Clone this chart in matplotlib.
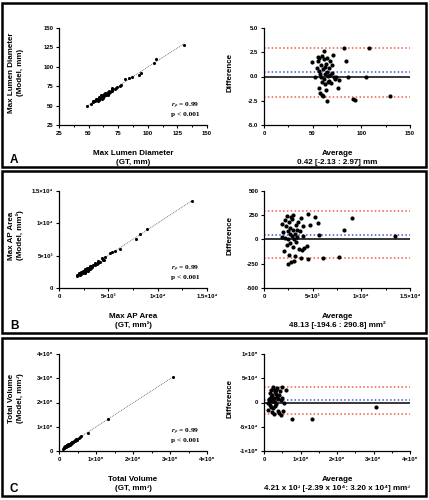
import matplotlib
matplotlib.use("Agg")
import matplotlib.pyplot as plt
import numpy as np
from matplotlib.patches import Rectangle

plt.rcParams['font.family'] = ['Liberation Sans', 'DejaVu Sans']
plt.rcParams['font.weight'] = 'bold'
plt.rcParams['mathtext.fontset'] = 'stix'

# --- data (Bland-Altman average / difference) ---
avg_a = [49, 52, 54, 55, 55, 56, 57, 57, 58, 58, 59, 59, 60, 60, 60, 61, 61, 62, 62, 62,
         63, 63, 63, 64, 64, 65, 65, 65, 66, 66, 67, 67, 68, 68, 69, 70, 70, 71, 72, 73,
         74, 76, 77, 82.5, 84.5, 86.5, 91, 93, 105, 108, 129.5]
diff_a = [1.5, 0.0, 0.9, 2.0, 1.6, 0.6, -1.2, 1.9, 0.3, -1.7, 1.2, 0.0, 2.1, -0.6, -1.9, 0.8,
          -2.0, 1.8, 2.6, -0.3, 1.0, -0.8, 0.3, 1.3, -1.4, -2.5, 0.5, 1.9, -0.6, 0.1, 0.9,
          -0.5, 1.6, 0.2, -0.7, 0.4, 1.2, 2.2, 0.0, -0.3, -0.1, -1.2, -0.4, 2.9, 1.6, -0.1,
          -2.3, -2.4, 0.0, 2.9, -2.0]

avg_b = [1800, 1900, 2000, 2100, 2150, 2200, 2300, 2350, 2400, 2450, 2500, 2500, 2550, 2600,
         2650, 2700, 2700, 2750, 2800, 2850, 2900, 2950, 3000, 3000, 3050, 3100, 3150, 3200,
         3250, 3300, 3350, 3400, 3500, 3600, 3700, 3800, 3800, 3870, 3970, 4040, 4140, 4380,
         4490, 4490, 4730, 5240, 5500, 5650, 6100, 7700, 8250, 9000, 13460]
diff_b = [30, 160, 80, -120, 200, 20, 140, 240, -60, 90, -250, 10, 180, -160, 60, 120, -40,
          230, -232, 40, 210, -80, 250, 100, -220, 0, 60, -171, 150, -30, 100, 30, 180, -100,
          90, 225, -189, -107, 36, 143, -89, -71, 268, -204, 150, 232, 168, 46, -189, -179,
          100, 221, 36]

avg_c = [100e3, 120e3, 140e3, 150e3, 160e3, 170e3, 180e3, 190e3, 200e3, 210e3, 220e3, 230e3,
         240e3, 250e3, 260e3, 260e3, 270e3, 280e3, 290e3, 300e3, 310e3, 320e3, 330e3, 340e3,
         350e3, 360e3, 370e3, 380e3, 400e3, 420e3, 440e3, 460e3, 470e3, 480e3, 500e3, 530e3,
         560e3, 600e3, 760e3, 1320e3, 3070e3]
diff_c = [0, -15000, 8000, 5000, -5000, 20000, 12000, -10000, 25000, 3000, -20000, 15000,
          28000, 6000, 31500, -12000, 10000, -24500, 22000, 2000, -8000, 18000, 26000, -3000,
          12000, 30000, -18000, 7000, 16000, -22000, 24000, 5000, -26000, 31500, 10000,
          -17500, 0, 25000, -33000, -35000, -9000]

# mean bias and limits of agreement
bias = [0.42, 48.13, 4.21e3]
lower = [-2.13, -194.6, -2.39e4]
upper = [2.97, 290.8, 3.20e4]

# axes ticks
sc_ticks = [[25, 50, 75, 100, 125, 150],
            [0, 5000, 10000, 15000],
            [0, 1e6, 2e6, 3e6, 4e6]]
sc_labels = [['25', '50', '75', '100', '125', '150'],
             ['0', '5×10³', '1×10⁴', '1.5×10⁴'],
             ['0', '1×10⁶', '2×10⁶', '3×10⁶', '4×10⁶']]
ba_xticks = [[0, 50, 100, 150],
             [0, 5000, 10000, 15000],
             [0, 1e6, 2e6, 3e6, 4e6]]
ba_xlabels = [['0', '50', '100', '150'],
              ['0', '5×10³', '1×10⁴', '1.5×10⁴'],
              ['0', '1×10⁶', '2×10⁶', '3×10⁶', '4×10⁶']]
ba_yticks = [[-5, -2.5, 0, 2.5, 5],
             [-500, -250, 0, 250, 500],
             [-1e5, -5e4, 0, 5e4, 1e5]]
ba_ylabels = [['-5.0', '-2.5', '0.0', '2.5', '5.0'],
              ['-500', '-250', '0', '250', '500'],
              ['-1×10⁵', '-5×10⁴', '0', '5×10⁴', '1×10⁵']]

sc_xlab = ['Max Lumen Diameter\n(GT, mm)', 'Max AP Area\n(GT, mm²)', 'Total Volume\n(GT, mm³)']
sc_ylab = ['Max Lumen Diameter\n(Model, mm)', 'Max AP Area\n(Model, mm²)',
           'Total Volume\n(Model, mm³)']
ba_xlab = ['Average\n0.42 [-2.13 : 2.97] mm', 'Average\n48.13 [-194.6 : 290.8] mm²',
           'Average\n4.21 x 10³ [-2.39 x 10⁴: 3.20 x 10⁴] mm³']
letters = ['A', 'B', 'C']

avgs = [avg_a, avg_b, avg_c]
diffs = [diff_a, diff_b, diff_c]

W, H = 429, 500
fig = plt.figure(figsize=(W / 100, H / 100), dpi=100)

row_top = [28, 191, 354]       # pixel top of axes per row
boxes = [(3, 167), (171, 333), (338, 496)]
ax_h = 97

tick_fs = 4.3
lab_fs = 5.8


def style(ax, xt, xl, yt, yl):
    for s in ['top', 'right']:
        ax.spines[s].set_visible(False)
    for s in ['left', 'bottom']:
        ax.spines[s].set_linewidth(0.9)
    ax.set_xticks(xt)
    ax.set_xticklabels(xl, fontsize=tick_fs, fontweight='bold')
    ax.set_yticks(yt)
    ax.set_yticklabels(yl, fontsize=tick_fs, fontweight='bold')
    ax.set_xticks([(a + b) / 2 for a, b in zip(xt[:-1], xt[1:])], minor=True)
    ax.tick_params(which='major', length=2.5, width=0.8, pad=1.5)
    ax.tick_params(which='minor', axis='x', length=1.5, width=0.7)
    ax.set_xlim(xt[0], xt[-1])
    ax.set_ylim(yt[0], yt[-1])


for i in range(3):
    avg = np.array(avgs[i], dtype=float)
    dif = np.array(diffs[i], dtype=float)
    gt = avg - dif / 2
    model = avg + dif / 2

    bottom = 1 - (row_top[i] + ax_h) / H
    ax1 = fig.add_axes([59 / W, bottom, 148 / W, ax_h / H])
    ax2 = fig.add_axes([264 / W, bottom, 146 / W, ax_h / H])

    # scatter GT vs model with fitted line
    k, b = np.polyfit(gt, model, 1)
    xx = np.array([gt.min(), gt.max()])
    ax1.plot(xx, k * xx + b, color='#555555', lw=0.6, ls=(0, (1, 1.2)), zorder=1)
    ax1.scatter(gt, model, s=5, color='black', zorder=2, linewidths=0)
    style(ax1, sc_ticks[i], sc_labels[i], sc_ticks[i], sc_labels[i])
    ax1.text(0.5, -0.34, sc_xlab[i], transform=ax1.transAxes, ha='center', va='center',
             fontsize=lab_fs, fontweight='bold', linespacing=1.3)
    ax1.text(-0.29, 0.54, sc_ylab[i], transform=ax1.transAxes, ha='center', va='center',
             rotation=90, fontsize=lab_fs, fontweight='bold', linespacing=1.3)
    ax1.text(0.95, 0.165, '$r_\\rho$ = 0.99\np < 0.001', transform=ax1.transAxes,
             ha='right', va='center', fontsize=5.3, fontweight='bold',
             family='Liberation Serif', linespacing=1.2)

    # Bland-Altman
    xt = ba_xticks[i]
    ax2.axhline(0, color='black', lw=1.1, zorder=1)
    ax2.axhline(bias[i], color='#4055d0', lw=1.1, ls=(0, (1, 1.5)), zorder=1)
    ax2.axhline(lower[i], color='#f05a45', lw=1.1, ls=(0, (1, 1.5)), zorder=1)
    ax2.axhline(upper[i], color='#f05a45', lw=1.1, ls=(0, (1, 1.5)), zorder=1)
    ax2.scatter(avg, dif, s=9, color='black', zorder=3, linewidths=0)
    style(ax2, xt, ba_xlabels[i], ba_yticks[i], ba_ylabels[i])
    ax2.text(0.5, -0.34, ba_xlab[i], transform=ax2.transAxes, ha='center', va='center',
             fontsize=lab_fs, fontweight='bold', linespacing=1.3)
    ax2.text(-0.233, 0.54, 'Difference', transform=ax2.transAxes, ha='center', va='center',
             rotation=90, fontsize=lab_fs, fontweight='bold')

    # panel frame and letter
    top, bot = boxes[i]
    fig.patches.append(Rectangle((2 / W, 1 - bot / H), 424 / W, (bot - top) / H,
                                 transform=fig.transFigure, fill=False, lw=1.8,
                                 edgecolor='black'))
    fig.text(10 / W, 1 - (bot - 4) / H, letters[i], fontsize=8.5, fontweight='bold',
             ha='left', va='baseline')

fig.savefig('out.png', dpi=100)
